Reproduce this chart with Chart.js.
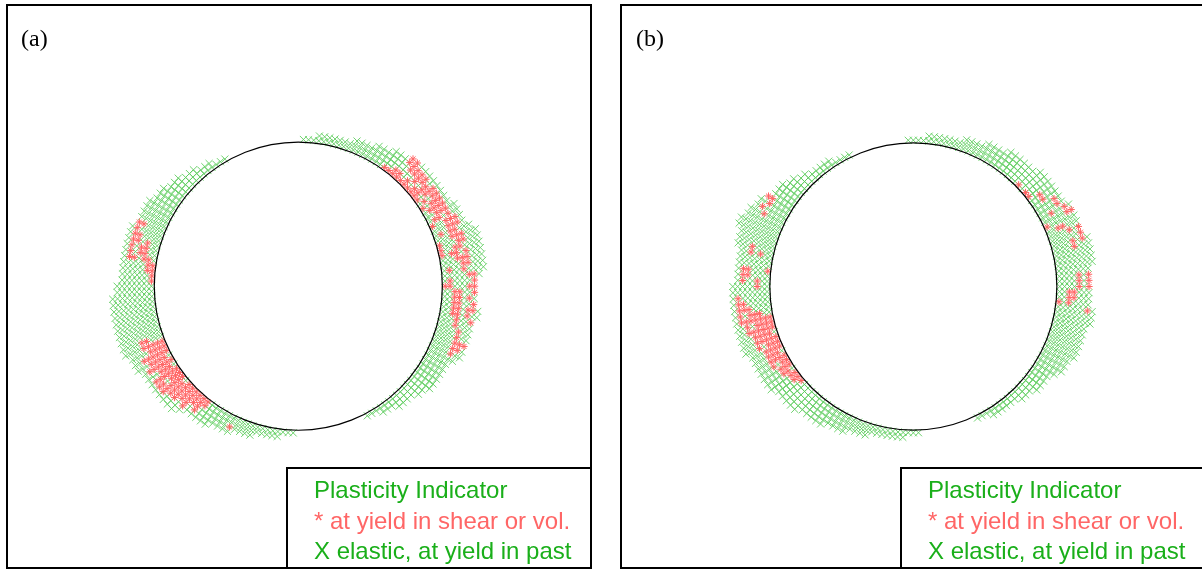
<!DOCTYPE html>
<html>
<head>
<meta charset="utf-8">
<script src="https://cdn.jsdelivr.net/npm/chart.js@4/dist/chart.umd.min.js"></script>
<style>
  body { margin: 0; background: #fff; width: 1202px; height: 570px; overflow: hidden; position: relative; }
  canvas { position: absolute; }
  .frame { position: absolute; border: 2px solid #000; box-sizing: border-box; }
  .legend { position: absolute; border: 2px solid #000; box-sizing: border-box; background: #fff; }
  .legend div { position: absolute; left: 26px; font-family: "Liberation Sans", Arial, sans-serif; font-size: 24px; line-height: 30px; white-space: nowrap; }
  .tag { position: absolute; font-family: "Liberation Serif", "Times New Roman", serif; font-size: 24px; line-height: 30px; }
</style>
</head>
<body>
<canvas id="plotA" width="586" height="565" style="left:6px;top:4px"></canvas>
<canvas id="plotB" width="582" height="565" style="left:620px;top:4px"></canvas>
<div class="frame" style="left:6px;top:4px;width:586px;height:565px"></div>
<div class="frame" style="left:620px;top:4px;width:590px;height:565px"></div>
<div class="tag" id="tagA" style="left:21px;top:23px"></div>
<div class="tag" id="tagB" style="left:636px;top:23px"></div>
<div class="legend" id="legA" style="left:286px;top:467px;width:306px;height:102px"></div>
<div class="legend" id="legB" style="left:900px;top:467px;width:310px;height:102px"></div>
<script>
// panel titles and legend text
var panelTags = ["(a)", "(b)"];
var legendLines = ["Plasticity Indicator", "* at yield in shear or vol.", "X elastic, at yield in past"];

// yielded zones: per mesh column (2 deg apart, counter-clockwise from start angle)
// the value is the outermost ring of the zone (ring 0 = next to the opening)
var ANG_STEP = 2;

var a_right_start = -62;
var a_right_outer = [0,0,0,1,1,1, 2,2,2,2,3,3, 4,4,4,4,4,4, 5,6,6,6,6,6, 6,6,7,7,6,6, 6,6,6,7,8,8,
                     8,8,8,8,8,7, 6,6,6,6,5,5, 5,5,5,5,5,5, 5,5,4,4,4,3, 3,3,2,2,2,2, 1,1,1,1,1,1, 1,0,0,0];
var a_left_start = 120;
var a_left_outer = [0,0,0,1,1,1, 2,2,2,3,3,3, 4,4,4,5,5,5, 5,5,6,6,6,6, 6,6,6,6,6,6, 7,7,8,8,8,8,
                    8,8,8,8,8,8, 7,7,7,6,6,6, 6,6,6,6,6,5, 4,4,4,4,4,3, 3,3,3,2,2,2, 2,1,1,1,1,1, 0,0,0];
// cells at yield now: [angle, first ring, last ring]
var a_stars = [
  [158,4,5],[160,5,5],[162,4,5],[164,2,2],[164,4,5],[166,2,3],[166,5,5],[168,2,3],[168,5,5],
  [170,1,2],[170,4,5],[172,0,1],[174,0,1],[176,0,0],[178,0,0],
  [200,3,4],[202,0,4],[204,0,3],[206,0,5],[208,1,4],[210,0,5],[212,1,3],[214,0,5],[216,0,2],
  [216,4,5],[218,0,5],[220,1,4],[222,0,4],[224,0,3],[226,0,4],[228,0,2],[230,0,3],[232,0,1],[244,2,2],
  [54,0,0],[52,0,0],[50,0,1],[48,0,1],[48,4,5],[46,0,0],[46,3,5],[44,0,1],[44,3,4],[42,0,0],
  [42,2,4],[40,0,1],[40,3,4],[38,0,3],[36,0,0],[36,2,4],[34,1,1],[34,3,4],[32,0,0],[32,2,4],
  [30,1,4],[28,2,4],[26,1,2],[26,4,4],[24,0,0],[24,3,5],[22,3,5],[20,1,1],[20,3,4],[18,3,5],
  [16,0,0],[16,4,5],[14,0,0],[14,3,4],[12,0,0],[12,2,3],[12,5,5],[10,3,5],[8,4,5],[6,1,1],
  [6,4,4],[4,5,6],[2,1,1],[2,6,6],[0,0,1],[0,5,6],[-2,2,3],[-2,6,6],[-4,2,3],[-4,5,5],
  [-6,2,3],[-6,6,6],[-8,2,3],[-8,5,6],[-10,2,3],[-10,5,5],[-12,3,3],[-12,6,6],[-14,3,3],
  [-16,4,4],[-18,4,4],[-20,4,6],[-22,4,5],[-24,4,4]
];

var b_right_start = -64;
var b_right_outer = [0,0,0,1,1,1, 1,1,1,2,2,2, 3,3,3,3,4,5, 5,5,6,6,6,6, 6,6,7,7,7,6, 6,6,6,6,6,6,
                     7,7,7,7,7,6, 6,6,6,6,6,5, 5,5,5,5,5,5, 4,4,4,4,4,4, 3,3,3,3,2,2, 2,2,1,1,1,1,
                     1,1,1,0,0,0, 0];
var b_left_start = 116;
var b_left_outer = [0,0,0,0,1,1, 1,1,1,2,2,3, 3,4,4,4,5,6, 6,7,7,8,8,7, 7,7,6,6,6,6, 6,6,7,7,7,7,
                    7,7,7,7,7,7, 7,7,6,6,6,6, 6,6,6,5,5,5, 5,5,4,4,4,4, 4,3,3,3,3,2, 2,2,2,1,1,1,
                    1,1,1,1,0,0, 0];
var b_stars = [
  [148,4,5],[150,4,4],[152,5,5],[154,4,4],[166,4,4],[168,2,2],[168,4,4],
  [174,0,0],[174,4,5],[176,4,5],[178,2,2],[178,5,5],[180,2,2],
  [184,6,6],[186,5,6],[188,4,6],[190,2,4],[190,6,6],[192,0,6],[194,0,3],[194,5,5],[196,0,5],
  [198,1,4],[200,0,4],[202,0,2],[202,4,4],[204,0,3],[206,1,3],[208,0,3],[210,0,1],[210,3,3],
  [212,0,2],[214,1,2],[216,0,1],[218,0,1],[220,0,0],
  [44,0,0],[40,0,0],[38,0,0],[36,2,2],[34,2,2],[32,4,4],[30,4,4],[28,2,2],[28,5,5],[26,5,6],
  [24,0,0],[22,2,3],[20,4,4],[20,6,6],[18,6,6],[16,4,4],[16,6,6],[14,4,4],
  [4,4,4],[4,6,6],[2,4,4],[2,6,6],[0,4,4],[0,6,6],[-2,2,3],[-4,2,3],[-6,0,0],[-6,2,2],[-8,6,6]
];

// opening radius = 1; mesh rings just outside it
function ringRadius(k) { return 1.02 + 0.034 * k; }

function meshPoints(bands, stars) {
    var starSet = new Set();
    stars.forEach(function (s) {
        for (var k = s[1]; k <= s[2]; k++) starSet.add(s[0] + ':' + k);
    });
    var xs = [], ss = [];
    bands.forEach(function (b) {
        b[1].forEach(function (n, i) {
            var a = b[0] + i * ANG_STEP;
            var t = a * Math.PI / 180;
            for (var k = 0; k <= n; k++) {
                var r = ringRadius(k);
                var p = {x: r * Math.cos(t), y: r * Math.sin(t)};
                if (starSet.has(a + ':' + k)) ss.push(p); else xs.push(p);
            }
        });
    });
    return {xs: xs, ss: ss};
}

// draws the opening through the chart scales
var openingPlugin = {
    id: 'opening',
    afterDatasetsDraw: function (chart) {
        var xs = chart.scales.x, ys = chart.scales.y, ctx = chart.ctx;
        var cx = xs.getPixelForValue(0), cy = ys.getPixelForValue(0);
        var r = xs.getPixelForValue(1) - cx;
        ctx.save();
        ctx.beginPath();
        ctx.arc(cx, cy, r, 0, Math.PI * 2);
        ctx.strokeStyle = '#000';
        ctx.lineWidth = 1.2;
        ctx.stroke();
        ctx.restore();
    }
};

function makePanel(id, pts, xmin, xmax, ymin, ymax) {
    return new Chart(document.getElementById(id), {
        type: 'scatter',
        data: {
            datasets: [
                {data: pts.ss, pointStyle: 'star', pointRadius: 3.6, borderColor: 'rgb(255,100,100)', borderWidth: 1, backgroundColor: 'rgb(255,100,100)'},
                {data: pts.xs, pointStyle: 'crossRot', pointRadius: 5, borderColor: 'rgb(95,205,95)', borderWidth: 0.9, backgroundColor: 'rgb(95,205,95)'}
            ]
        },
        options: {
            responsive: false,
            animation: false,
            events: [],
            layout: {padding: 0},
            plugins: {legend: {display: false}, tooltip: {enabled: false}},
            scales: {
                x: {type: 'linear', display: false, min: xmin, max: xmax},
                y: {type: 'linear', display: false, min: ymin, max: ymax}
            }
        },
        plugins: [openingPlugin]
    });
}

(function () {
    var ptsA = meshPoints([[a_right_start, a_right_outer], [a_left_start, a_left_outer]], a_stars);
    var ptsB = meshPoints([[b_right_start, b_right_outer], [b_left_start, b_left_outer]], b_stars);
    // 147 px per opening radius; centres at (298,286) and (913,286)
    makePanel('plotA', ptsA, -292.3 / 147, (586 - 292.3) / 147, -(565 - 282.2) / 147, 282.2 / 147);
    makePanel('plotB', ptsB, -293.4 / 146.5, (582 - 293.4) / 146.5, -(565 - 282.5) / 146.5, 282.5 / 146.5);

    document.getElementById('tagA').textContent = panelTags[0];
    document.getElementById('tagB').textContent = panelTags[1];
    var colors = ['#1aaf1a', '#ff6666', '#1aaf1a'];
    ['legA', 'legB'].forEach(function (id) {
        var box = document.getElementById(id);
        legendLines.forEach(function (txt, i) {
            var d = document.createElement('div');
            d.textContent = txt;
            d.style.color = colors[i];
            d.style.top = (6 + i * 30.5) + 'px';
            box.appendChild(d);
        });
    });
})();
</script>
</body>
</html>
